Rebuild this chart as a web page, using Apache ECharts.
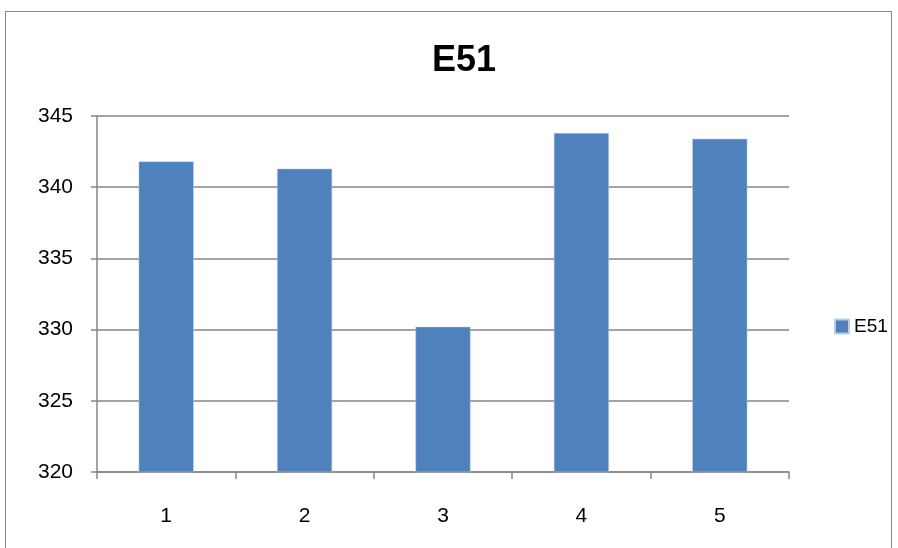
<!DOCTYPE html>
<html>
<head>
<meta charset="utf-8">
<script src="https://cdn.jsdelivr.net/npm/echarts@6/dist/echarts.min.js"></script>
<style>
  html, body { margin: 0; padding: 0; background: #fff; }
  #frame { position: absolute; left: 5px; top: 11px; width: 887px; height: 545px;
           border: 1.5px solid #8a8a8a; box-sizing: border-box; }
  #chart { position: absolute; left: 0; top: 0; width: 898px; height: 548px; }
</style>
</head>
<body>
<div id="frame"></div>
<div id="chart"></div>
<script>
// Series data
const categories = ['1', '2', '3', '4', '5'];
const seriesName = 'E51';
const values = [341.8, 341.3, 330.2, 343.8, 343.4];
const yTicks = { min: 320, max: 345, interval: 5 };

const chart = echarts.init(document.getElementById('chart'));
const font = '"Liberation Sans", "Open Sans", sans-serif';

chart.setOption({
  animation: false,
  title: {
    text: seriesName,
    left: 459,
    textAlign: 'center',
    top: 38,
    textStyle: { fontFamily: font, fontWeight: 'bold', fontSize: 36, color: '#000' }
  },
  legend: {
    data: [seriesName],
    left: 829,
    top: 312,
    icon: 'rect',
    itemWidth: 14,
    itemHeight: 14,
    itemGap: 6,
    textStyle: { fontFamily: font, fontSize: 19, color: '#000', padding: [0, 0, 0, 0] }
  },
  grid: { left: 97, top: 116, width: 692, height: 356, containLabel: false },
  xAxis: {
    type: 'category',
    data: categories,
    axisLine: { lineStyle: { color: '#868686', width: 1.5 } },
    axisTick: { show: true, length: 7, lineStyle: { color: '#868686', width: 1.5 } },
    axisLabel: { fontFamily: font, fontSize: 21, color: '#000', margin: 34 },
    splitLine: { show: false }
  },
  yAxis: {
    type: 'value',
    min: yTicks.min,
    max: yTicks.max,
    interval: yTicks.interval,
    axisLine: { show: true, lineStyle: { color: '#868686', width: 1.5 } },
    axisTick: { show: true, length: 6, lineStyle: { color: '#868686', width: 1.5 } },
    axisLabel: { fontFamily: font, fontSize: 21, color: '#000', margin: 24 },
    splitLine: { show: true, lineStyle: { color: '#868686', width: 1.5 } }
  },
  series: [{
    name: seriesName,
    type: 'bar',
    data: values,
    barWidth: 55,
    itemStyle: { color: '#4f81bd', borderColor: '#b9cde5', borderWidth: 0.5 }
  }]
});
</script>
</body>
</html>
